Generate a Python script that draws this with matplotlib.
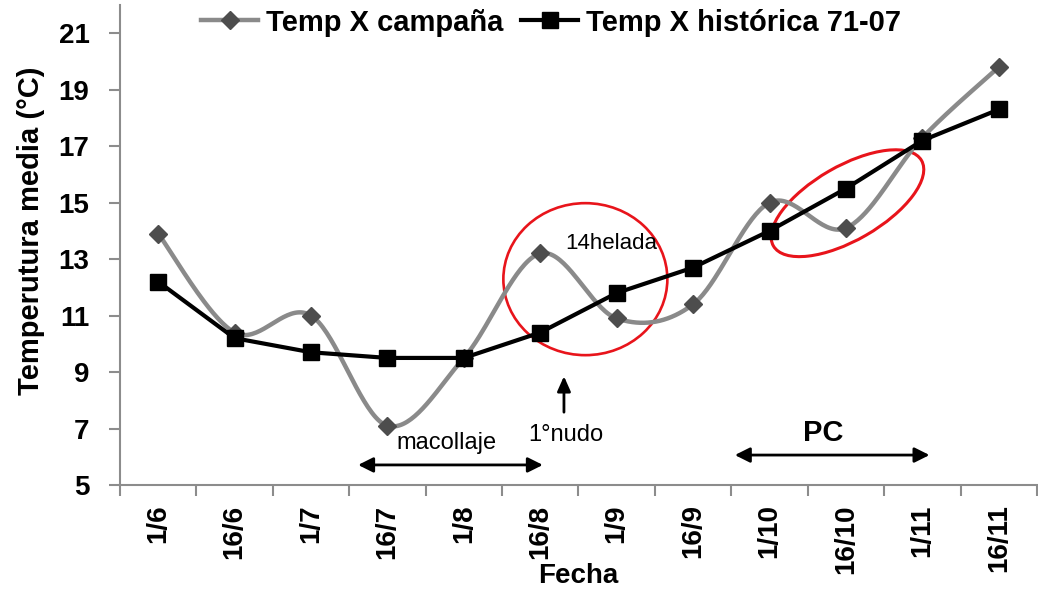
import numpy as np
import matplotlib
matplotlib.use("Agg")
import matplotlib.pyplot as plt
from matplotlib.patches import Ellipse
from matplotlib.transforms import ScaledTranslation

# ---- data ----
fechas = ["1/6", "16/6", "1/7", "16/7", "1/8", "16/8", "1/9", "16/9", "1/10", "16/10", "1/11", "16/11"]
temp_campana = [13.9, 10.4, 11.0, 7.1, 9.5, 13.2, 10.9, 11.4, 15.0, 14.1, 17.3, 19.8]
temp_historica = [12.2, 10.2, 9.7, 9.5, 9.5, 10.4, 11.8, 12.7, 14.0, 15.5, 17.2, 18.3]
label_campana = "Temp X campaña"
label_historica = "Temp X histórica 71-07"
y_ticks = [5, 7, 9, 11, 13, 15, 17, 19, 21]

plt.rcParams['font.family'] = ['Liberation Sans', 'DejaVu Sans']

fig = plt.figure(figsize=(10.38, 5.90), dpi=100)
ax = fig.add_axes([0.1156, 0.178, 0.8834, 0.8135])

x = np.arange(len(fechas))


def smooth(xs, ys, n=40):
    xs = np.asarray(xs, float)
    ys = np.asarray(ys, float)
    P = np.column_stack([xs, ys])
    Pext = np.vstack([P[0], P, P[-1]])
    out = []
    for i in range(len(P) - 1):
        p0, p1, p2, p3 = Pext[i], Pext[i + 1], Pext[i + 2], Pext[i + 3]
        c1 = p1 + (p2 - p0) / 6.0
        c2 = p2 - (p3 - p1) / 6.0
        t = np.linspace(0, 1, n)[:, None]
        seg = ((1 - t) ** 3) * p1 + 3 * ((1 - t) ** 2) * t * c1 + 3 * (1 - t) * t ** 2 * c2 + t ** 3 * p2
        out.append(seg if i == 0 else seg[1:])
    s = np.vstack(out)
    return s[:, 0], s[:, 1]


sx, sy = smooth(x, temp_campana)
ax.plot(sx, sy, color="#8a8a8a", lw=3.2, zorder=2, solid_capstyle="round")
ax.plot(x, temp_campana, ls="none", marker="D", ms=9, color="#4d4d4d",
        markeredgecolor="#4d4d4d", zorder=3)
ax.plot(x, temp_historica, color="black", lw=3, marker="s", ms=12, zorder=4)

# legend proxies
h1, = ax.plot([], [], color="#8a8a8a", lw=3.2, marker="D", ms=9,
              markerfacecolor="#4d4d4d", markeredgecolor="#4d4d4d")
h2, = ax.plot([], [], color="black", lw=3, marker="s", ms=12)
fig.legend([h1, h2], [label_campana, label_historica], loc="upper center",
           bbox_to_anchor=(0.531, 1.03), ncol=2, frameon=False,
           prop={"weight": "bold", "size": 21}, handlelength=1.95,
           handletextpad=0.27, columnspacing=0.6)

ax.set_xlim(-0.5, len(fechas) - 0.5)
ax.set_ylim(5, 22)
ax.set_yticks(y_ticks)
ax.set_yticklabels([str(v) for v in y_ticks], fontsize=20, fontweight="bold")

ax.set_xticks(np.arange(-0.5, len(fechas), 1.0))
ax.set_xticklabels([])
ax.set_xticks(x, minor=True)
ax.set_xticklabels(fechas, minor=True, rotation=90, fontsize=20, fontweight="bold")
ax.tick_params(axis="x", which="minor", length=0, pad=14)
ax.tick_params(axis="x", which="major", length=8, width=1.5, color="#8c8c8c", direction="out")
ax.tick_params(axis="y", length=8, width=1.5, color="#8c8c8c", direction="out", pad=14)

for s in ["top", "right"]:
    ax.spines[s].set_visible(False)
for s in ["left", "bottom"]:
    ax.spines[s].set_color("#8c8c8c")
    ax.spines[s].set_linewidth(1.5)

ax.set_xlabel("Fecha", fontsize=20, fontweight="bold", labelpad=-8)
ax.set_ylabel("Temperutura media (°C)", fontsize=21, fontweight="bold")
ax.yaxis.set_label_coords(-0.082, 0.53)

# ellipses (size in inches, centered at data point)
e1 = Ellipse((0, 0), 1.64, 1.52, angle=0, fill=False, edgecolor="#e8141b", lw=1.9,
             transform=fig.dpi_scale_trans + ScaledTranslation(5.59, 12.29, ax.transData))
e2 = Ellipse((0, 0), 1.71, 0.74, angle=30, fill=False, edgecolor="#e8141b", lw=2.2,
             transform=fig.dpi_scale_trans + ScaledTranslation(9.02, 14.98, ax.transData))
ax.add_patch(e1)
ax.add_patch(e2)

arrow_kw = dict(arrowstyle="<|-|>,head_length=0.9,head_width=0.45", color="black", lw=2)
ax.annotate("", xy=(2.58, 5.71), xytext=(5.07, 5.71), arrowprops=arrow_kw)
ax.annotate("", xy=(7.51, 6.06), xytext=(10.13, 6.06), arrowprops=arrow_kw)
ax.annotate("", xy=(5.31, 8.95), xytext=(5.31, 7.48),
            arrowprops=dict(arrowstyle="-|>,head_length=0.9,head_width=0.4", color="black", lw=2))

ax.text(3.77, 6.49, "macollaje", fontsize=17, ha="center", va="center")
ax.text(5.34, 6.77, "1°nudo", fontsize=17, ha="center", va="center")
ax.text(5.33, 13.57, "14helada", fontsize=16, ha="left", va="center")
ax.text(8.70, 6.84, "PC", fontsize=21, fontweight="bold", ha="center", va="center")

fig.savefig("out.png", dpi=100)
